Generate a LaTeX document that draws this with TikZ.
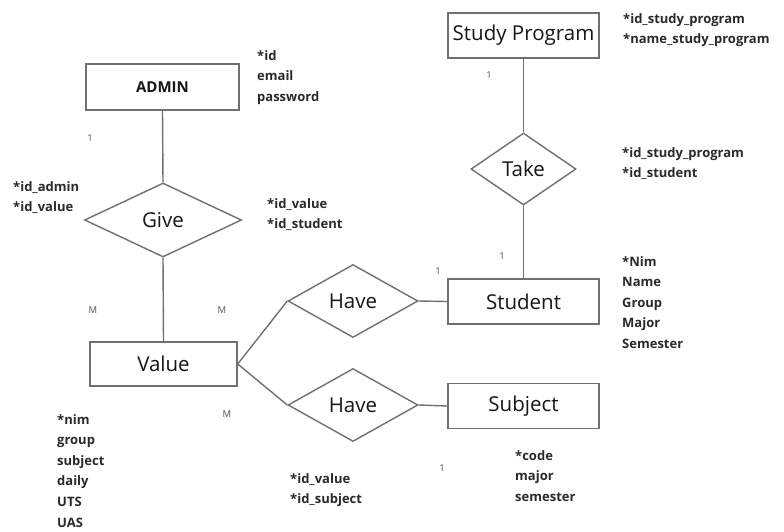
\documentclass[tikz,border=0pt]{standalone}
\usepackage{fontspec}
\setmainfont{Open Sans}
\usetikzlibrary{shapes.geometric}
\definecolor{edgegray}{HTML}{707070}
\definecolor{inkdark}{HTML}{161616}
\definecolor{attrink}{HTML}{2A2A2A}
\definecolor{cardgray}{HTML}{505050}
\begin{document}
\begin{tikzpicture}[x=1pt,y=-1pt,
  entity/.style={draw=edgegray, line width=1.4pt, rectangle, minimum width=151pt,
    minimum height=45pt, inner sep=0pt, font=\fontsize{20.5}{24}\selectfont, text=inkdark},
  relation/.style={draw=edgegray, line width=1.4pt, diamond, inner sep=0pt,
    font=\fontsize{20.5}{24}\selectfont, text=inkdark},
  link/.style={draw=edgegray, line width=1.4pt},
  attr/.style={anchor=north west, inner sep=0pt, align=left,
    font=\bfseries\fontsize{13}{20.6}\selectfont, text=attrink},
  card/.style={font=\fontsize{9.5}{9.5}\selectfont, text=cardgray, inner sep=0pt}]

\fill[white] (0,0) rectangle (784,531);
\useasboundingbox (0,0) rectangle (784,531);

% entities
\node[entity, minimum width=153pt, minimum height=46pt,
      font=\bfseries\fontsize{15}{18}\selectfont] (admin) at (162.5,87) {ADMIN};
\node[entity, minimum width=147pt, minimum height=44pt] (value) at (163.5,364) {Value};
\node[entity] (student) at (523.5,301.5) {Student};
\node[entity] (subject) at (523.5,406) {Subject};
\node[entity] (studyprog) at (523.5,35.5) {Study Program};

% relationships
\node[relation, minimum width=157pt, minimum height=74pt] (give) at (163,220) {Give};
\node[relation, minimum width=130pt, minimum height=73pt] (haveA) at (353,301) {Have};
\node[relation, minimum width=130pt, minimum height=73pt] (haveB) at (353,405) {Have};
\node[relation, minimum width=105pt, minimum height=72pt] (take) at (523.5,169) {Take};

% connectors
\draw[link] (admin.south) -- (give.north);
\draw[link] (give.south) -- (value.north);
\draw[link] (value.east) -- (haveA.west);
\draw[link] (value.east) -- (haveB.west);
\draw[link] (haveA.east) -- (student.west);
\draw[link] (haveB.east) -- (subject.west);
\draw[link] (studyprog.south) -- (take.north);
\draw[link] (take.south) -- (student.north);

% attributes
\node[attr] (adminattr) at (257,50) {*id\\email\\password};
\node[attr] (giveattrL) at (13,181) {*id\_admin\\*id\_value};
\node[attr] (giveattrR) at (267,198) {*id\_value\\*id\_student};
\node[attr] (valueattr) at (57,414) {*nim\\group\\subject\\daily\\UTS\\UAS};
\node[attr] (haveattr) at (290,473) {*id\_value\\*id\_subject};
\node[attr] (progattr) at (623,13) {*id\_study\_program\\*name\_study\_program};
\node[attr] (takeattr) at (622,147) {*id\_study\_program\\*id\_student};
\node[attr] (studattr) at (622,256) {*Nim\\Name\\Group\\Major\\Semester};
\node[attr] (subjattr) at (515,450) {*code\\major\\semester};

% cardinalities
\node[card] (cA) at (90,138) {1};
\node[card] (cB) at (489,75) {1};
\node[card] (cC) at (502,256) {1};
\node[card] (cD) at (438,271) {1};
\node[card] (cE) at (442,468) {1};
\node[card] (cF) at (93,310) {M};
\node[card] (cG) at (222,310) {M};
\node[card] (cH) at (227,414) {M};
\end{tikzpicture}
\end{document}
